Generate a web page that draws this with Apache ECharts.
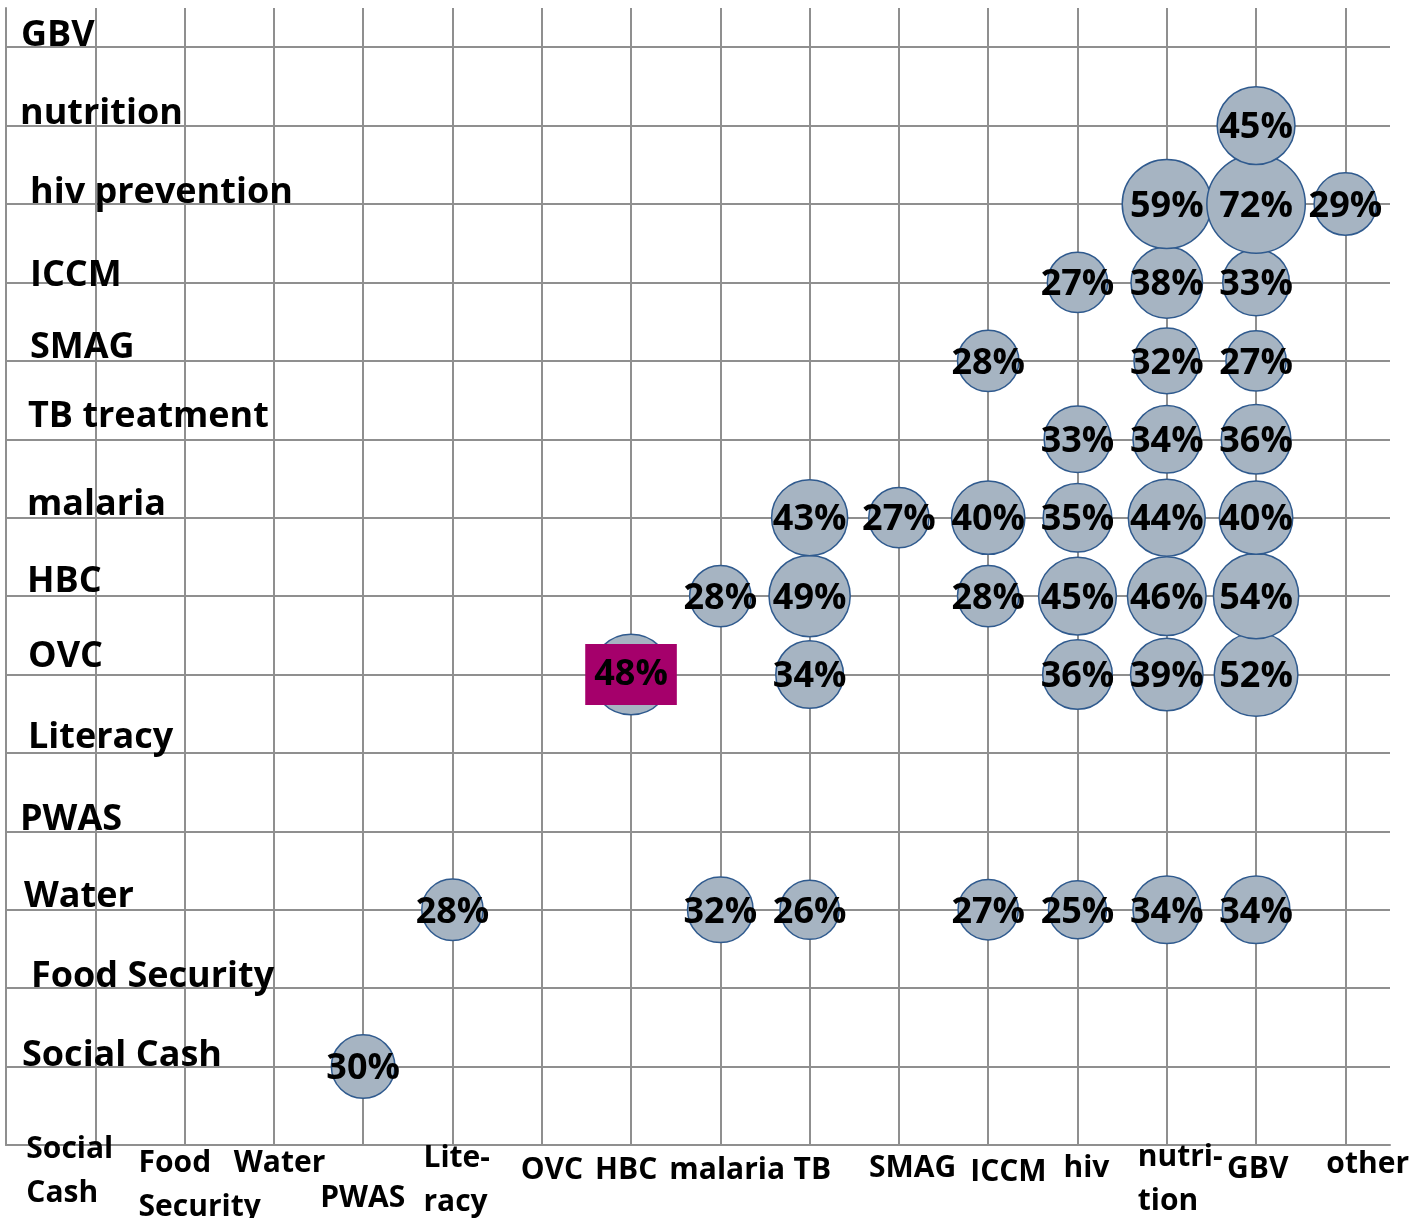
<!DOCTYPE html>
<html>
<head>
<meta charset="utf-8">
<title>Programme overlap bubbles</title>
<script src="https://cdn.jsdelivr.net/npm/echarts@6/dist/echarts.min.js"></script>
<style>
  html, body { margin: 0; padding: 0; background: #ffffff; }
  #chart { width: 1412px; height: 1218px; }
</style>
</head>
<body>
<div id="chart"></div>
<script>
// Programme categories along each axis (tick 1 = first entry)
const xCategories = ['Social Cash', 'Food Security', 'Water', 'PWAS', 'Literacy', 'OVC', 'HBC',
  'malaria', 'TB', 'SMAG', 'ICCM', 'hiv', 'nutrition', 'GBV', 'other'];
const xTickLabels = ['Social\nCash', 'Food\nSecurity', 'Water', 'PWAS', 'Lite-\nracy', 'OVC', 'HBC',
  'malaria', 'TB', 'SMAG', 'ICCM', 'hiv', 'nutri-\ntion', 'GBV', 'other'];
const yCategories = ['Social Cash', 'Food Security', 'Water', 'PWAS', 'Literacy', 'OVC', 'HBC',
  'malaria', 'TB treatment', 'SMAG', 'ICCM', 'hiv prevention', 'nutrition', 'GBV'];

// Overlap share (%) per row, one slot per x category; null = no bubble
const _ = null;
const pctSocialCash    = [_, _, _, 30, _, _, _, _, _, _, _, _, _, _, _];
const pctFoodSecurity  = [_, _, _, _, _, _, _, _, _, _, _, _, _, _, _];
const pctWater         = [_, _, _, _, 28, _, _, 32, 26, _, 27, 25, 34, 34, _];
const pctPWAS          = [_, _, _, _, _, _, _, _, _, _, _, _, _, _, _];
const pctLiteracy      = [_, _, _, _, _, _, _, _, _, _, _, _, _, _, _];
const pctOVC           = [_, _, _, _, _, _, 48, _, 34, _, _, 36, 39, 52, _];
const pctHBC           = [_, _, _, _, _, _, _, 28, 49, _, 28, 45, 46, 54, _];
const pctMalaria       = [_, _, _, _, _, _, _, _, 43, 27, 40, 35, 44, 40, _];
const pctTBTreatment   = [_, _, _, _, _, _, _, _, _, _, _, 33, 34, 36, _];
const pctSMAG          = [_, _, _, _, _, _, _, _, _, _, 28, _, 32, 27, _];
const pctICCM          = [_, _, _, _, _, _, _, _, _, _, _, 27, 38, 33, _];
const pctHivPrevention = [_, _, _, _, _, _, _, _, _, _, _, _, 59, 72, 29];
const pctNutrition     = [_, _, _, _, _, _, _, _, _, _, _, _, _, 45, _];
const pctGBV           = [_, _, _, _, _, _, _, _, _, _, _, _, _, _, _];

const rows = [pctSocialCash, pctFoodSecurity, pctWater, pctPWAS, pctLiteracy, pctOVC, pctHBC,
  pctMalaria, pctTBTreatment, pctSMAG, pctICCM, pctHivPrevention, pctNutrition, pctGBV];

// The one cell whose label is called out
const calloutCell = ['HBC', 'OVC'];

// ---- styling ----
const FONT = '"Open Sans"';
const GRID_COLOR = '#8f8f8f';
const BUBBLE_FILL = '#a6b4c2';
const BUBBLE_EDGE = '#2f5a8e';
const CALLOUT_BG = '#a5006b';
const TEXT_DROP = 2.5; // centres cap height on the anchor line

// Label nudges: [dx from anchor to text start, dy from gridline to baseline]
const yLabelNudge = [[16, 0], [25, -1.5], [18, -3], [14, -1.5], [22, -5], [22, -7], [21, -4.5],
  [21, -3], [22, -12], [24, -3], [24, 4], [24, -1], [14, -2], [15, -1.5]];
const xLabelNudge = [[-69, 13], [-46, 27], [-40, 27], [-43, 62], [-29, 22], [-21, 34], [-36, 34],
  [-51, 34], [-16, 34], [-30, 32], [-18, 36], [-14, 32], [-29, 21], [-29, 33], [-19, 28]];

const bubbles = [];
rows.forEach((row, yi) => {
  row.forEach((v, xi) => {
    if (v == null) return;
    const item = { value: [xi + 1, yi + 1, v] };
    if (xCategories[xi] === calloutCell[0] && yCategories[yi] === calloutCell[1]) {
      item.label = { backgroundColor: CALLOUT_BG, lineHeight: 36, offset: [0, 0],
        padding: [18, 9, 7, 9] };
    }
    bubbles.push(item);
  });
});

const chart = echarts.init(document.getElementById('chart'));

const gridLine = { show: true, lineStyle: { color: GRID_COLOR, width: 2 }, showMaxLine: false };

chart.setOption({
  animation: false,
  backgroundColor: '#ffffff',
  grid: { left: 6, right: 22, top: 8, bottom: 73, containLabel: false },
  xAxis: {
    type: 'value', min: 0, max: 15.5, interval: 1,
    axisLine: { show: true, lineStyle: { color: GRID_COLOR, width: 2 } },
    axisTick: { show: false },
    axisLabel: { show: false },
    splitLine: gridLine
  },
  yAxis: {
    type: 'value', min: 0, max: 14.5, interval: 1,
    axisLine: { show: true, lineStyle: { color: GRID_COLOR, width: 2 } },
    axisTick: { show: false },
    axisLabel: { show: false },
    splitLine: gridLine
  },
  series: [{
    type: 'scatter',
    data: bubbles,
    symbol: 'circle',
    symbolSize: (val) => 11.6 * Math.sqrt(val[2]),
    itemStyle: { color: BUBBLE_FILL, borderColor: BUBBLE_EDGE, borderWidth: 1.5, opacity: 1 },
    label: {
      show: true,
      position: 'inside',
      offset: [0, TEXT_DROP],
      formatter: (p) => p.value[2] + '%',
      color: '#000000',
      fontFamily: FONT,
      fontWeight: 'bold',
      fontSize: 36
    },
    emphasis: { disabled: true }
  }]
});

// Category names drawn at the axis ticks
const Y_FS = 36, X_FS = 30, X_LH = 44;
const graphics = [];
yCategories.forEach((name, i) => {
  const p = chart.convertToPixel({ xAxisIndex: 0, yAxisIndex: 0 }, [0, i + 1]);
  const [dx, dy] = yLabelNudge[i];
  graphics.push({
    type: 'text', silent: true, z: 10,
    x: p[0] + dx, y: p[1] + dy - 0.357 * Y_FS + TEXT_DROP,
    style: { text: name, font: `bold ${Y_FS}px ${FONT}`, fill: '#000000',
      align: 'left', verticalAlign: 'middle' }
  });
});
xTickLabels.forEach((name, i) => {
  const p = chart.convertToPixel({ xAxisIndex: 0, yAxisIndex: 0 }, [i + 1, 0]);
  const [dx, dy] = xLabelNudge[i];
  graphics.push({
    type: 'text', silent: true, z: 10,
    x: p[0] + dx, y: p[1] + dy - 0.357 * X_FS - X_LH / 2 + TEXT_DROP,
    style: { text: name, font: `bold ${X_FS}px ${FONT}`, fill: '#000000', lineHeight: X_LH,
      align: 'left', verticalAlign: 'top' }
  });
});
chart.setOption({ graphic: graphics });
</script>
</body>
</html>
